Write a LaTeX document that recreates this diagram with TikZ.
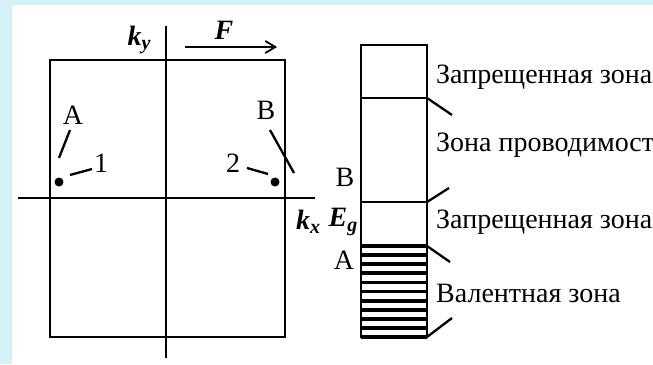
\documentclass[tikz,border=0pt]{standalone}
\usepackage{fontspec}
\setmainfont{Liberation Serif}
\usetikzlibrary{arrows.meta}
\definecolor{bgcyan}{HTML}{D3F1F6}
\tikzset{
  ln/.style={line width=2.3pt, black},
  lbl/.style={font=\fontsize{28}{30}\selectfont, inner sep=0pt},
  band/.style={line width=2.6pt, black},
  dotm/.style={circle, fill=black, inner sep=0pt, minimum size=9pt}
}
\newcommand{\bi}[1]{\textbf{\textit{#1}}}
\newcommand{\sbi}[1]{\raisebox{-0.35ex}{\bi{\fontsize{20}{20}\selectfont #1}}}
\begin{document}
\begin{tikzpicture}[x=1pt,y=-1pt]
\useasboundingbox (0,0) rectangle (653,364);
\fill[bgcyan] (0,0) rectangle (653,364);
\fill[white] (12,5) rectangle (653,364);
% Brillouin zone square
\draw[band] (50,60) rectangle (285,337);
\draw[ln] (166,26) -- (166,358);
\draw[ln] (18,198) -- (315,198);
\node[lbl] (ky) at (139,40) {\bi{k}\sbi{y}};
\node[lbl] (kx) at (308,222) {\bi{k}\sbi{x}};
\node[lbl] (F) at (224,30) {\bi{F}};
\coordinate (fs) at (185,47);
\coordinate (fe) at (277,47);
\draw[ln, -{Straight Barb[length=10pt,width=12pt,line width=1.8pt]}] (fs) -- (fe);
% points
\node[dotm] (d1) at (59,182) {};
\node[dotm] (d2) at (275,182) {};
\node[lbl] (A1) at (73,115) {A};
\node[lbl] (B1) at (266,110) {B};
\node[lbl] (n1) at (101,163) {1};
\node[lbl] (n2) at (233,163) {2};
\coordinate (a1s) at (70,130); \coordinate (a1e) at (59,158);
\draw[ln] (a1s) -- (a1e);
\coordinate (b1s) at (270,130); \coordinate (b1e) at (294,173);
\draw[ln] (b1s) -- (b1e);
\coordinate (o1s) at (70,175); \coordinate (o1e) at (92,169);
\draw[ln] (o1s) -- (o1e);
\coordinate (o2s) at (247,168); \coordinate (o2e) at (268,174);
\draw[ln] (o2s) -- (o2e);
% band diagram
\draw[band] (361,45) rectangle (427,337);
\coordinate (b98l) at (361,98); \coordinate (b98r) at (427,98);
\coordinate (b202l) at (361,202); \coordinate (b202r) at (427,202);
\coordinate (b246l) at (361,246); \coordinate (b246r) at (427,246);
\coordinate (b337r) at (427,337);
\draw[ln] (b98l) -- (b98r);
\draw[ln] (b202l) -- (b202r);
\foreach \i in {0,...,10} {
  \draw[line width=3.8pt] (361,{246+\i*9.1}) -- (427,{246+\i*9.1});
}
\coordinate (t1) at (452,115);
\coordinate (t2) at (449,188);
\coordinate (t3) at (450,262);
\coordinate (t4) at (452,318);
\draw[ln] (b98r) -- (t1);
\draw[ln] (b202r) -- (t2);
\draw[ln] (b246r) -- (t3);
\draw[ln] (b337r) -- (t4);
\node[lbl, anchor=west] (z1) at (436,77) {Запрещенная зона};
\node[lbl, anchor=west] (z2) at (436,145) {Зона проводимости};
\node[lbl, anchor=west] (z3) at (436,222) {Запрещенная зона};
\node[lbl, anchor=west] (z4) at (436,293) {Валентная зона};
\node[lbl] (B2) at (345,177) {B};
\node[lbl] (Eg) at (343,222) {\bi{E}\sbi{g}};
\node[lbl] (A2) at (344,260) {A};
\end{tikzpicture}
\end{document}
